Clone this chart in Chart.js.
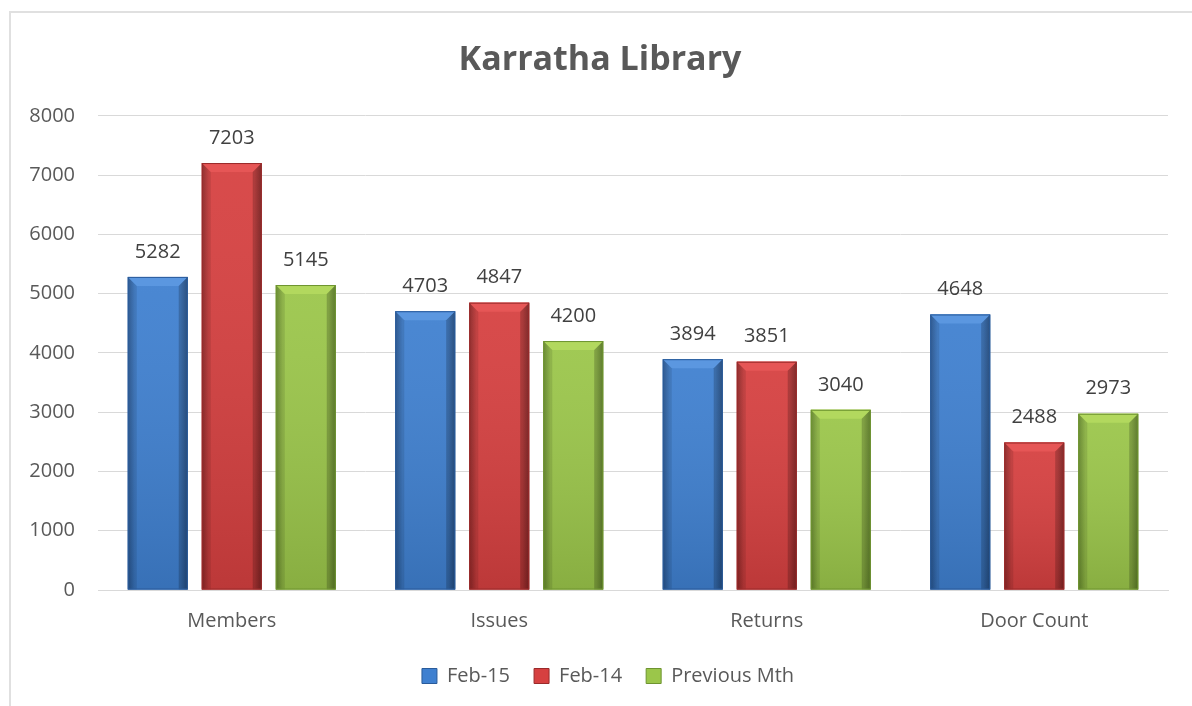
<!DOCTYPE html>
<html>
<head>
<meta charset="utf-8">
<script src="https://cdn.jsdelivr.net/npm/chart.js@4.4.1/dist/chart.umd.min.js"></script>
<style>
  html, body { margin: 0; padding: 0; background: #fff; }
  #wrap { position: relative; width: 1192px; height: 706px; overflow: hidden; }
  #frame { position: absolute; left: 9px; top: 11px; width: 1300px; height: 800px;
           border-left: 2px solid #e0e0e0; border-top: 2px solid #e0e0e0; pointer-events: none; }
  canvas { position: absolute; left: 0; top: 0; }
</style>
</head>
<body>
<div id="wrap">
  <canvas id="myChart" width="1192" height="706"></canvas>
  <div id="frame"></div>
</div>
<script>
const categories = ['Members', 'Issues', 'Returns', 'Door Count'];
const feb15 = [5282, 4703, 3894, 4648];
const feb14 = [7203, 4847, 3851, 2488];
const prevMth = [5145, 4200, 3040, 2973];
const yTicks = [0, 1000, 2000, 3000, 4000, 5000, 6000, 7000, 8000];

const fontName = '"Open Sans", sans-serif';

// light, mid, dark for each series
const palette = [
    { light: '#5b97e0', mid: '#3f80d0', dark: '#2a5b9a' },
    { light: '#e65656', mid: '#d64040', dark: '#9a2a2a' },
    { light: '#b2d85e', mid: '#9bc64a', dark: '#6e9430' }
];

// bevel shading drawn over each bar, using the element's own geometry
const bevelPlugin = {
    id: 'bevel',
    afterLayout(chart) {
        // Excel centres title and legend on the chart frame, a bit right of the canvas middle
        chart.legend.left += 24;
        chart.legend.right += 24;
        chart.titleBlock.left += 16;
        chart.titleBlock.right += 16;
    },
    afterDatasetsDraw(chart) {
        const c = chart.ctx;
        chart.data.datasets.forEach(function (ds, i) {
            const meta = chart.getDatasetMeta(i);
            const col = palette[i];
            meta.data.forEach(function (bar) {
                const left = bar.x - bar.width / 2;
                const right = bar.x + bar.width / 2;
                const top = bar.y;
                const bottom = bar.base;
                const e = 9;
                c.save();
                let g = c.createLinearGradient(left, 0, right, 0);
                g.addColorStop(0, col.dark);
                g.addColorStop(0.12, col.mid);
                g.addColorStop(0.88, col.mid);
                g.addColorStop(1, col.dark);
                c.fillStyle = g;
                c.fillRect(left, top, right - left, bottom - top);
                let gv = c.createLinearGradient(0, top, 0, bottom);
                gv.addColorStop(0, 'rgba(255,255,255,0.06)');
                gv.addColorStop(1, 'rgba(0,0,0,0.12)');
                c.fillStyle = gv;
                c.fillRect(left, top, right - left, bottom - top);
                // top bevel
                c.beginPath();
                c.moveTo(left, top);
                c.lineTo(right, top);
                c.lineTo(right - e, top + e);
                c.lineTo(left + e, top + e);
                c.closePath();
                c.fillStyle = col.light;
                c.fill();
                // side bevels
                c.beginPath();
                c.moveTo(left, top);
                c.lineTo(left + e, top + e);
                c.lineTo(left + e, bottom);
                c.lineTo(left, bottom);
                c.closePath();
                c.fillStyle = 'rgba(0,0,0,0.1)';
                c.fill();
                c.beginPath();
                c.moveTo(right, top);
                c.lineTo(right - e, top + e);
                c.lineTo(right - e, bottom);
                c.lineTo(right, bottom);
                c.closePath();
                c.fillStyle = 'rgba(0,0,0,0.2)';
                c.fill();
                c.strokeStyle = col.dark;
                c.lineWidth = 1;
                c.strokeRect(left + 0.5, top + 0.5, right - left - 1, bottom - top - 1);
                c.restore();
            });
        });
    },
    afterDraw(chart) {
        // value labels above the bars
        const c = chart.ctx;
        c.save();
        c.font = '20px ' + fontName;
        c.fillStyle = '#404040';
        c.textAlign = 'center';
        c.textBaseline = 'middle';
        chart.data.datasets.forEach(function (ds, i) {
            chart.getDatasetMeta(i).data.forEach(function (bar, j) {
                c.fillText(String(ds.data[j]), bar.x, bar.y - 25);
            });
        });
        c.restore();
    }
};

const ctx = document.getElementById('myChart');
const myChart = new Chart(ctx, {
    type: 'bar',
    data: {
        labels: categories,
        datasets: [
            { label: 'Feb-15', data: feb15, backgroundColor: palette[0].mid },
            { label: 'Feb-14', data: feb14, backgroundColor: palette[1].mid },
            { label: 'Previous Mth', data: prevMth, backgroundColor: palette[2].mid }
        ]
    },
    options: {
        responsive: false,
        animation: false,
        layout: { padding: { left: 0, right: 24, top: 0, bottom: 10 } },
        datasets: { bar: { barPercentage: 0.81, categoryPercentage: 0.83 } },
        plugins: {
            title: {
                display: true,
                text: 'Karratha Library',
                color: '#595959',
                font: { family: fontName, size: 34, weight: 'bold' },
                padding: { top: 40, bottom: 35 }
            },
            legend: {
                position: 'bottom',
                labels: {
                    color: '#595959',
                    font: { family: fontName, size: 20 },
                    boxWidth: 15,
                    boxHeight: 15,
                    padding: 24,
                    generateLabels: function (chart) {
                        return chart.data.datasets.map(function (ds, i) {
                            return {
                                text: ds.label,
                                fillStyle: palette[i].mid,
                                strokeStyle: palette[i].dark,
                                lineWidth: 1,
                                fontColor: '#595959',
                                datasetIndex: i
                            };
                        });
                    }
                }
            },
            tooltip: { enabled: false }
        },
        scales: {
            x: {
                afterFit: function (scale) { scale.height = 52; },
                grid: { display: false, drawTicks: false },
                border: { display: true, color: '#d9d9d9', width: 1 },
                ticks: { color: '#595959', font: { family: fontName, size: 20 }, padding: 19 }
            },
            y: {
                min: 0,
                max: 8000,
                afterBuildTicks: function (scale) {
                    scale.ticks = yTicks.map(function (v) { return { value: v }; });
                },
                afterFit: function (scale) { scale.width = 98; },
                grid: { color: '#d9d9d9', drawTicks: false },
                border: { display: false },
                ticks: {
                    color: '#595959',
                    font: { family: fontName, size: 20 },
                    padding: 23,
                    callback: function (v) { return String(v); }
                }
            }
        }
    },
    plugins: [bevelPlugin]
});
</script>
</body>
</html>
